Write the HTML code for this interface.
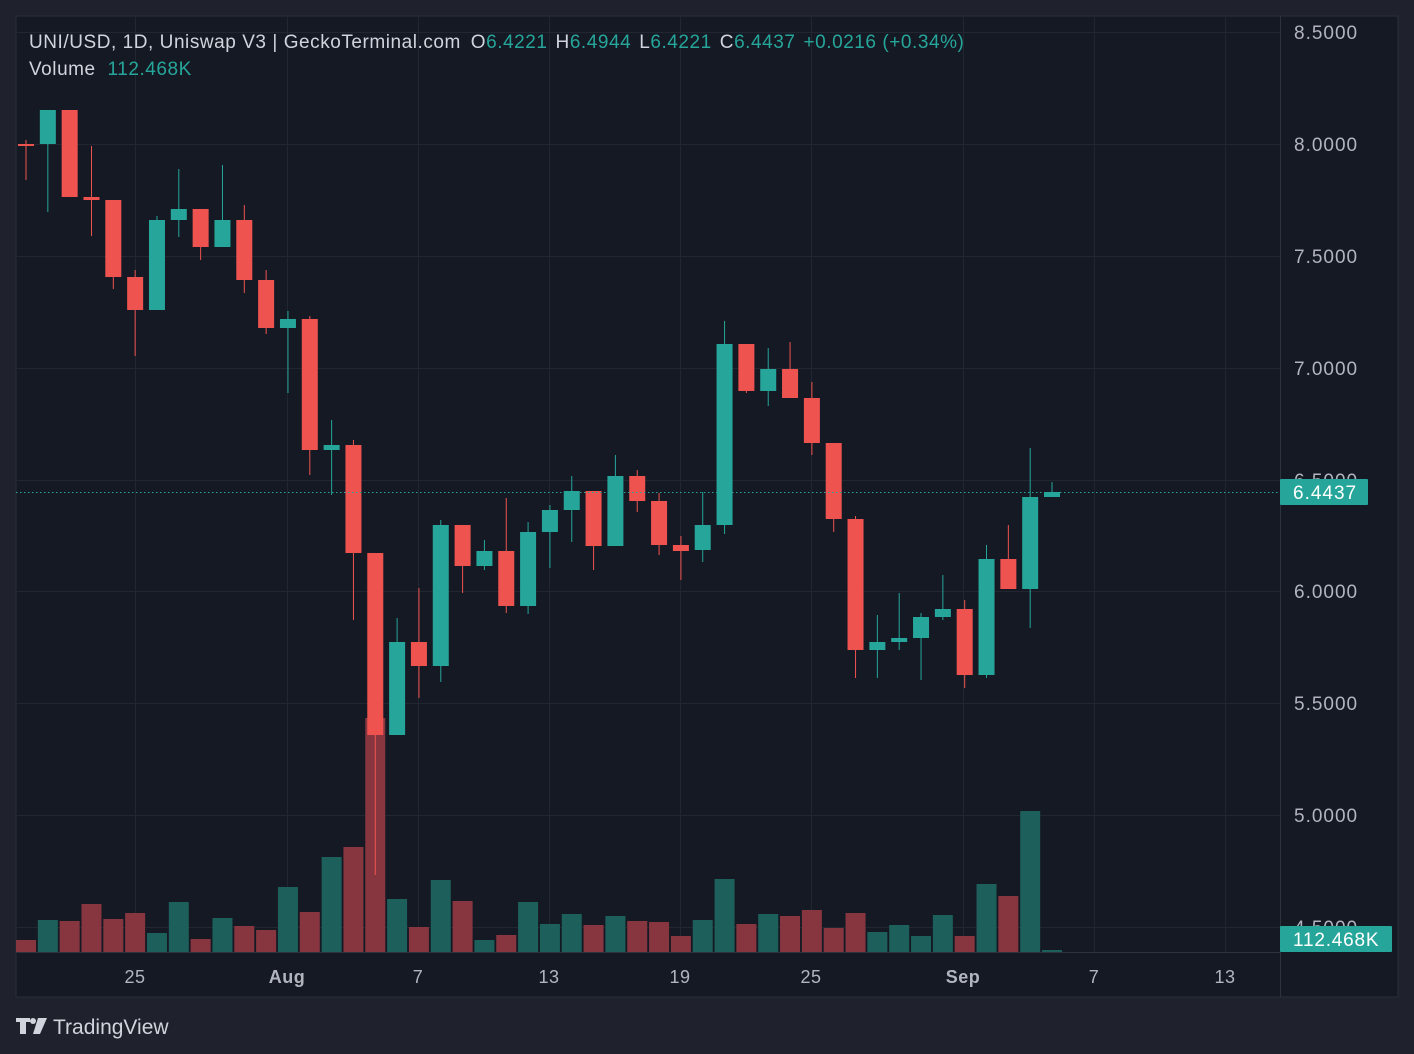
<!DOCTYPE html>
<html><head><meta charset="utf-8"><style>
html,body{margin:0;padding:0;background:#1f222c;width:1414px;height:1054px;overflow:hidden;font-family:"Liberation Sans",sans-serif}
svg{position:absolute;left:0;top:0}
</style></head><body>
<svg id="s" width="1414" height="1054" xmlns="http://www.w3.org/2000/svg">
<rect x="0" y="0" width="1414" height="1054" fill="#1f222c"/>
<rect x="16" y="16" width="1382" height="981" fill="#151924" stroke="#2a2e39" stroke-width="1"/>
<g id="grid" stroke="#222631" stroke-width="1"></g>
<g id="vol"></g>
<g id="cdl"></g>
<line x1="1280.5" y1="16" x2="1280.5" y2="997" stroke="#2e323d"/>
<line x1="16" y1="952.5" x2="1280" y2="952.5" stroke="#2e323d"/>
<line x1="16" y1="492.5" x2="1280" y2="492.5" stroke="#26a69a" stroke-dasharray="1.5,2.5"/>
<g font-size="19" fill="#b2b5be" letter-spacing="1" font-family="Liberation Sans, sans-serif">
<text x="1294" y="39">8.5000</text>
<text x="1294" y="151">8.0000</text>
<text x="1294" y="263">7.5000</text>
<text x="1294" y="375">7.0000</text>
<text x="1294" y="487">6.5000</text>
<text x="1294" y="598">6.0000</text>
<text x="1294" y="710">5.5000</text>
<text x="1294" y="822">5.0000</text>
<text x="1294" y="934">4.5000</text>
</g>
<rect x="1280" y="479" width="88" height="26" fill="#26a69a" rx="1"/>
<text x="1293" y="499" font-size="19" letter-spacing="1" fill="#fff">6.4437</text>
<rect x="1280" y="926" width="112" height="26" fill="#26a69a" rx="1"/>
<text x="1293" y="946" font-size="19" letter-spacing="0.8" fill="#fff">112.468K</text>
<g font-size="18" fill="#b2b5be" text-anchor="middle" letter-spacing="0.5">
<text x="135" y="983">25</text>
<text x="287" y="983" font-weight="bold">Aug</text>
<text x="418" y="983">7</text>
<text x="549" y="983">13</text>
<text x="680" y="983">19</text>
<text x="811" y="983">25</text>
<text x="963" y="983" font-weight="bold">Sep</text>
<text x="1094" y="983">7</text>
<text x="1225" y="983">13</text>
</g>
<text x="29" y="48" font-size="19" letter-spacing="0.55" fill="#d1d4dc">UNI/USD, 1D, Uniswap V3 | GeckoTerminal.com <tspan dx="4">O</tspan><tspan fill="#26a69a">6.4221</tspan><tspan dx="8">H</tspan><tspan fill="#26a69a">6.4944</tspan><tspan dx="8">L</tspan><tspan fill="#26a69a">6.4221</tspan><tspan dx="8">C</tspan><tspan fill="#26a69a">6.4437</tspan><tspan dx="8" fill="#26a69a">+0.0216 (+0.34%)</tspan></text>
<text x="29" y="75" font-size="19" letter-spacing="0.55" fill="#d1d4dc">Volume <tspan dx="6" fill="#26a69a">112.468K</tspan></text>
<g fill="#d1d4dc">
<path d="M16 1018h14v4h-4v12h-6v-12h-4z"/>
<circle cx="33" cy="1021" r="3"/>
<path d="M38 1018h9l-7 16h-7z"/>
</g>
<text x="53" y="1034" font-size="21" fill="#d1d4dc">TradingView</text>
</svg>
<script>
var C=[[144,145,140,180],[144,110,110,212],[110,197,110,197],[197,200,146,236],[200,277,200,289],[277,310,270,356],[310,220,216,310],[220,209,169,237],[209,247,209,260],[247,220,165,247],[220,280,205,293],[280,328,270,334],[328,319,311,393],[319,450,316,475],[450,445,420,495],[445,553,440,620],[553,735,553,875],[735,642,618,735],[642,666,588,698],[666,525,520,682],[525,566,525,593],[566,551,540,570],[551,606,498,613],[606,532,522,614],[532,510,505,568],[510,491,476,542],[491,546,491,570],[546,476,455,546],[476,501,470,512],[501,545,493,555],[545,551,536,580],[550,525,492,562],[525,344,321,534],[344,391,344,393],[391,369,348,406],[369,398,342,398],[398,443,382,455],[443,519,443,532],[519,650,516,678],[650,642,615,678],[642,638,593,650],[638,617,613,680],[617,609,575,620],[609,675,600,688],[675,559,545,678],[559,589,525,589],[589,497,448,628],[497,492,482,497]];
var V=[940,920,921,904,919,913,933,902,939,918,926,930,887,912,857,847,718,899,927,880,901,940,935,902,924,914,925,916,921,922,936,920,879,924,914,916,910,928,913,932,925,936,915,936,884,896,811,950];
var ns="http://www.w3.org/2000/svg",g=document.getElementById('grid'),cd=document.getElementById('cdl'),vo=document.getElementById('vol');
function el(p,t,a){var e=document.createElementNS(ns,t);for(var k in a)e.setAttribute(k,a[k]);p.appendChild(e);return e;}
[32,144,256,368,480,591,703,815,927].forEach(function(y){el(g,'line',{x1:16,x2:1280,y1:y+.5,y2:y+.5});});
[135,287,418,549,680,811,963,1094,1225].forEach(function(x){el(g,'line',{x1:x+.5,x2:x+.5,y1:16,y2:952});});
for(var i=0;i<C.length;i++){var x=26+i*21.83,c=C[i],up=c[1]<c[0],col=up?'#26a69a':'#ef5350';
el(vo,'rect',{x:x-10,y:V[i],width:20,height:952-V[i],fill:up?'#1d5f5a':'#873640'});
el(cd,'line',{x1:x,x2:x,y1:c[2],y2:c[3],stroke:col,'stroke-width':1});
var t=Math.min(c[0],c[1]),h=Math.max(2,Math.abs(c[0]-c[1]));
el(cd,'rect',{x:x-8,y:t,width:16,height:h,fill:col});}
</script>
</body></html>
